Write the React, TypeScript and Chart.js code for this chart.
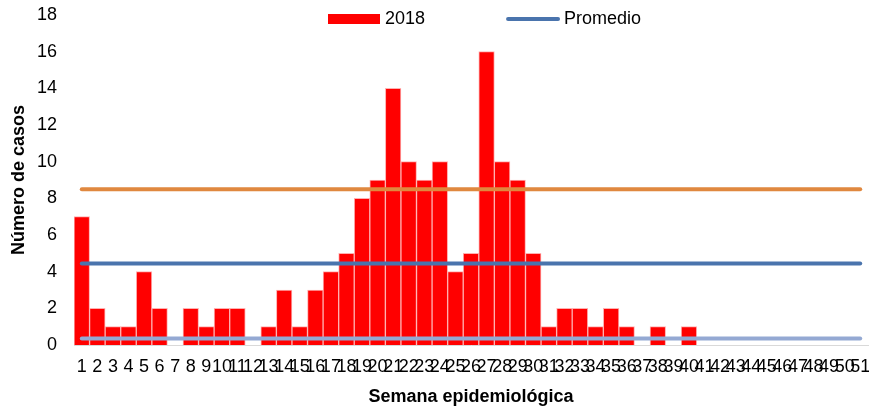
import { useEffect, useRef } from 'react';
import { Chart, registerables } from 'chart.js';

Chart.register(...registerables);

// Semana epidemiológica (categories)
const weeks = [
  '1', '2', '3', '4', '5', '6', '7', '8', '9', '10',
  '11', '12', '13', '14', '15', '16', '17', '18', '19', '20',
  '21', '22', '23', '24', '25', '26', '27', '28', '29', '30',
  '31', '32', '33', '34', '35', '36', '37', '38', '39', '40',
  '41', '42', '43', '44', '45', '46', '47', '48', '49', '50', '51',
];

// Casos 2018 por semana
const cases2018 = [
  7, 2, 1, 1, 4, 2, 0, 2, 1, 2,
  2, 0, 1, 3, 1, 3, 4, 5, 8, 9,
  14, 10, 9, 10, 4, 5, 16, 10, 9, 5,
  1, 2, 2, 1, 2, 1, 0, 1, 0, 1,
  0, 0, 0, 0, 0, 0, 0, 0, 0, 0, 0,
];

// Horizontal reference lines (first and last week)
const lineWeeks = ['1', '51'];
const promedioValues = [4.45, 4.45];
const upperValues = [8.5, 8.5];
const lowerValues = [0.35, 0.35];

const yTicks = [0, 2, 4, 6, 8, 10, 12, 14, 16, 18];

const FONT = '"Liberation Sans", Arial, sans-serif';

const toPoints = (xs: string[], ys: number[]) => xs.map((x, i) => ({ x, y: ys[i] }));

const legendPlugin = {
  id: 'customLegend',
  afterDraw(chart: any) {
    const { ctx, chartArea } = chart;
    const ds = chart.data.datasets;
    const cx = (chartArea.left + chartArea.right) / 2;
    let x = cx - 143;
    const y = 19;
    ctx.save();
    ctx.font = `18px ${FONT}`;
    ctx.textBaseline = 'middle';
    ctx.textAlign = 'left';
    // bar item
    ctx.fillStyle = ds[0].backgroundColor;
    ctx.fillRect(x, y - 5, 52, 10);
    x += 57;
    ctx.fillStyle = '#000';
    ctx.fillText(ds[0].label, x, y);
    x += ctx.measureText(ds[0].label).width + 81;
    // line item
    ctx.strokeStyle = ds[1].borderColor;
    ctx.lineWidth = 4;
    ctx.lineCap = 'round';
    ctx.beginPath();
    ctx.moveTo(x + 2, y);
    ctx.lineTo(x + 52, y);
    ctx.stroke();
    x += 58;
    ctx.fillStyle = '#000';
    ctx.fillText(ds[1].label, x, y);
    ctx.restore();
  },
};

export default function App() {
  const ref = useRef<HTMLCanvasElement | null>(null);

  useEffect(() => {
    document.body.style.margin = '0';
    const canvas = ref.current;
    if (!canvas) return;
    const chart = new Chart(canvas, {
      type: 'bar',
      data: {
        labels: weeks,
        datasets: [
          {
            type: 'bar',
            label: '2018',
            data: cases2018,
            backgroundColor: '#FF0000',
            borderColor: '#FFB0B0',
            borderWidth: 1,
            barPercentage: 1,
            categoryPercentage: 1,
            order: 2,
          },
          {
            type: 'line',
            label: 'Promedio',
            data: toPoints(lineWeeks, promedioValues),
            borderColor: '#4A74AD',
            borderWidth: 4,
            borderCapStyle: 'round',
            pointRadius: 0,
            fill: false,
            order: 0,
          },
          {
            type: 'line',
            label: 'Umbral superior',
            data: toPoints(lineWeeks, upperValues),
            borderColor: '#E0883F',
            borderWidth: 4,
            borderCapStyle: 'round',
            pointRadius: 0,
            fill: false,
            order: 0,
          },
          {
            type: 'line',
            label: 'Umbral inferior',
            data: toPoints(lineWeeks, lowerValues),
            borderColor: '#94A9D3',
            borderWidth: 4,
            borderCapStyle: 'round',
            pointRadius: 0,
            fill: false,
            order: 0,
          },
        ] as any,
      },
      options: {
        animation: false,
        responsive: false,
        devicePixelRatio: 1,
        layout: { padding: { top: 15, right: 1, left: 0, bottom: 0 } },
        plugins: {
          legend: { display: false },
          tooltip: { enabled: false },
        },
        scales: {
          x: {
            type: 'category',
            offset: true,
            grid: { display: false, drawTicks: false },
            border: { display: true, color: '#D9D9D9', width: 1 },
            ticks: {
              autoSkip: false,
              maxRotation: 0,
              minRotation: 0,
              padding: 11,
              color: '#000',
              font: { family: FONT, size: 18 },
            },
            title: {
              display: true,
              text: 'Semana epidemiológica',
              color: '#000',
              font: { family: FONT, size: 18, weight: 'bold', lineHeight: 1 },
              padding: { top: 0, bottom: 0 },
            },
            afterFit: (scale: any) => {
              scale.height = 61;
              scale.paddingLeft = 0;
              scale.paddingRight = 0;
            },
          },
          y: {
            min: 0,
            max: 18,
            afterBuildTicks: (scale: any) => {
              scale.ticks = yTicks.map((v) => ({ value: v }));
            },
            grid: { display: false, drawTicks: false },
            border: { display: false },
            ticks: {
              padding: 17,
              color: '#000',
              font: { family: FONT, size: 18 },
            },
            title: {
              display: true,
              text: 'Número de casos',
              color: '#000',
              font: { family: FONT, size: 18, weight: 'bold', lineHeight: 1 },
              padding: { top: 10, bottom: 0 },
            },
            afterFit: (scale: any) => {
              scale.width = 74;
              scale.paddingTop = 0;
              scale.paddingBottom = 0;
            },
          },
        },
      } as any,
      plugins: [legendPlugin],
    });
    return () => chart.destroy();
  }, []);

  return (
    <div style={{ width: 869, height: 406, position: 'relative', background: '#fff' }}>
      <canvas ref={ref} width={869} height={406} />
    </div>
  );
}
